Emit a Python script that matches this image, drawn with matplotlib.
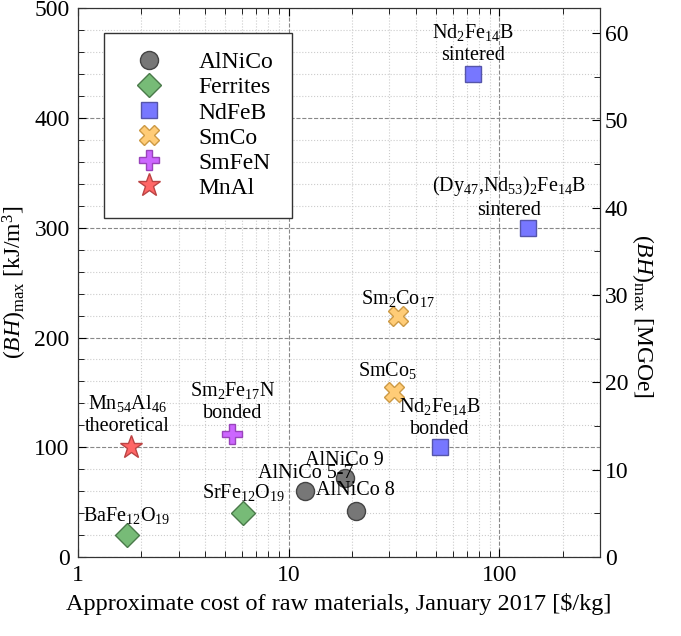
import matplotlib
matplotlib.use('Agg')
import matplotlib.pyplot as plt
from matplotlib.ticker import MultipleLocator, LogLocator, NullFormatter, FixedLocator
import numpy as np

plt.rcParams['font.family'] = ['Liberation Serif', 'DejaVu Serif']
plt.rcParams['mathtext.fontset'] = 'custom'
plt.rcParams['mathtext.rm'] = 'Liberation Serif'
plt.rcParams['mathtext.it'] = 'Liberation Serif:italic'

# data: cost [$/kg], (BH)max [kJ/m3]
alnico_names = ['AlNiCo 5-7', 'AlNiCo 9', 'AlNiCo 8']
alnico_cost = [12, 18.4, 20.8]
alnico_bh = [60, 72, 42]

ferrite_names = ['BaFe$_{12}$O$_{19}$', 'SrFe$_{12}$O$_{19}$']
ferrite_cost = [1.7, 6.1]
ferrite_bh = [20, 40]

ndfeb_names = ['Nd$_2$Fe$_{14}$B\nsintered', '(Dy$_{47}$,Nd$_{53}$)$_2$Fe$_{14}$B\nsintered',
               'Nd$_2$Fe$_{14}$B\nbonded']
ndfeb_cost = [75, 137, 52]
ndfeb_bh = [440, 300, 100]

smco_names = ['Sm$_2$Co$_{17}$', 'SmCo$_5$']
smco_cost = [33, 31.5]
smco_bh = [220, 150]

smfen_names = ['Sm$_2$Fe$_{17}$N\nbonded']
smfen_cost = [5.4]
smfen_bh = [112]

mnal_names = ['Mn$_{54}$Al$_{46}$\ntheoretical']
mnal_cost = [1.78]
mnal_bh = [100]

KJ_PER_MGOE = 7.9577

fig = plt.figure(figsize=(6.81, 6.36), dpi=100)
ax = fig.add_axes([0.1145, 0.1242, 0.7665, 0.8628])

groups = [
    ('AlNiCo', alnico_cost, alnico_bh, 'o', '#777777', '#444444', 13),
    ('Ferrites', ferrite_cost, ferrite_bh, 'D', '#77bb77', '#4a7a4a', 12),
    ('NdFeB', ndfeb_cost, ndfeb_bh, 's', '#7777ff', '#5555aa', 12),
    ('SmCo', smco_cost, smco_bh, 'X', '#ffcc77', '#cc9944', 14),
    ('SmFeN', smfen_cost, smfen_bh, 'P', '#cc66ff', '#9944bb', 14),
    ('MnAl', mnal_cost, mnal_bh, '*', '#ff6666', '#bb4444', 17),
]
for name, xs, ys, mk, fc, ec, ms in groups:
    ax.plot(xs, ys, linestyle='none', marker=mk, markersize=ms, markerfacecolor=fc,
            markeredgecolor=ec, markeredgewidth=1.0, label=name, zorder=3)

# annotations (offsets in pixels)
labels = [
    (alnico_names[0], alnico_cost[0], alnico_bh[0], (0, 8)),
    (alnico_names[1], alnico_cost[1], alnico_bh[1], (0, 8)),
    (alnico_names[2], alnico_cost[2], alnico_bh[2], (0, 11)),
    (ferrite_names[0], ferrite_cost[0], ferrite_bh[0], (0, 9)),
    (ferrite_names[1], ferrite_cost[1], ferrite_bh[1], (0, 10)),
    (ndfeb_names[0], ndfeb_cost[0], ndfeb_bh[0], (0, 9)),
    (ndfeb_names[1], ndfeb_cost[1], ndfeb_bh[1], (-19, 8)),
    (ndfeb_names[2], ndfeb_cost[2], ndfeb_bh[2], (0, 8)),
    (smco_names[0], smco_cost[0], smco_bh[0], (0, 7)),
    (smco_names[1], smco_cost[1], smco_bh[1], (-6, 11)),
    (smfen_names[0], smfen_cost[0], smfen_bh[0], (0, 11)),
    (mnal_names[0], mnal_cost[0], mnal_bh[0], (-3, 11)),
]
for txt, x, y, off in labels:
    ax.annotate(txt, (x, y), xytext=off, textcoords='offset pixels',
                ha='center', va='bottom', fontsize=14.5, linespacing=1.2, zorder=4)

ax.set_xscale('log')
ax.set_xlim(1, 300)
ax.set_ylim(0, 500)
ax.xaxis.set_major_locator(FixedLocator([1, 10, 100]))
ax.set_xticklabels(['1', '10', '100'])
ax.xaxis.set_minor_locator(LogLocator(base=10, subs=np.arange(2, 10)))
ax.xaxis.set_minor_formatter(NullFormatter())
ax.yaxis.set_major_locator(MultipleLocator(100))
ax.yaxis.set_minor_locator(MultipleLocator(20))

ax.grid(which='major', color='#888888', linestyle='--', linewidth=0.8)
ax.grid(which='minor', color='#cccccc', linestyle=':', linewidth=0.8)
ax.set_axisbelow(True)

ax.tick_params(which='both', direction='in', top=True, labelsize=17, pad=6)
ax.tick_params(which='major', length=6, width=0.8)
ax.tick_params(which='minor', length=4, width=0.6)

ax.set_xlabel(r'Approximate cost of raw materials, January 2017 [\$/kg]', fontsize=17.5, labelpad=5)
ax.set_ylabel(r'$(BH)_\mathrm{max}$ [kJ/m$^3$]', fontsize=17)

ax2 = ax.twinx()
ax2.set_ylim(0, 500 / KJ_PER_MGOE)
ax2.yaxis.set_major_locator(MultipleLocator(10))
ax2.yaxis.set_minor_locator(MultipleLocator(5))
ax2.tick_params(which='both', direction='in', labelsize=17)
ax2.tick_params(which='major', length=6)
ax2.tick_params(which='minor', length=4)
ax2.set_ylabel(r'$(BH)_\mathrm{max}$ [MGOe]', fontsize=17, rotation=270, va='center')
ax2.yaxis.set_label_coords(1.082, 0.44)

for a in (ax, ax2):
    for s in a.spines.values():
        s.set_color('#333333')

leg = ax.legend(loc='upper left', bbox_to_anchor=(0.05, 0.955), fontsize=17, frameon=True,
                fancybox=False, edgecolor='#333333', framealpha=1, borderpad=0.8,
                handletextpad=1.0, labelspacing=0.15, handlelength=2.2, borderaxespad=0)
leg.get_frame().set_linewidth(1.0)

fig.savefig('out.png', dpi=100)
